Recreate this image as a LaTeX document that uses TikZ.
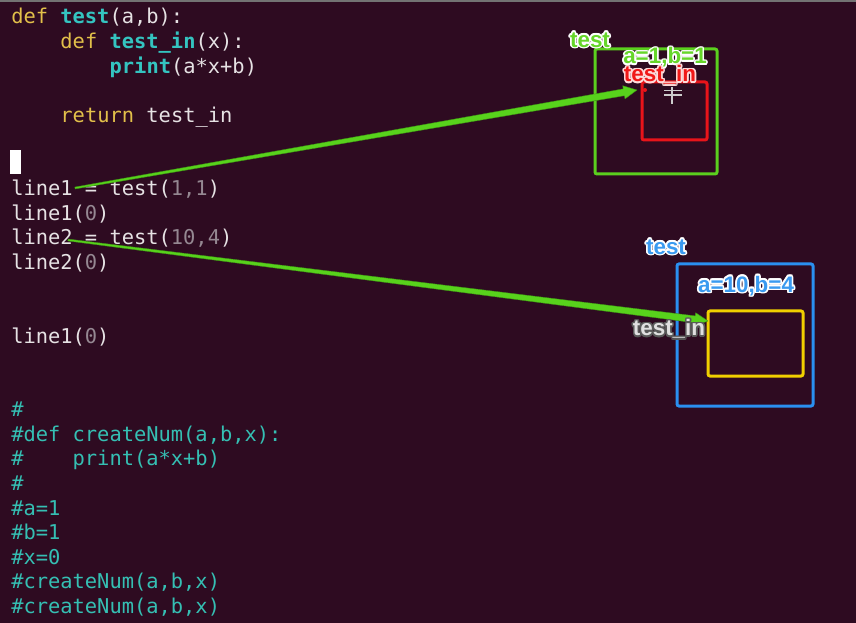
\documentclass[tikz,border=0pt]{standalone}
\usepackage{fontspec}
\setmonofont{DejaVu Sans Mono}
\newfontfamily\labfont{Liberation Sans}
\usetikzlibrary{calc}
\definecolor{bg}{HTML}{2E0B21}
\definecolor{codew}{HTML}{E6E2E4}
\definecolor{kw}{HTML}{E2C04A}
\definecolor{fn}{HTML}{34C4C0}
\definecolor{num}{HTML}{958892}
\definecolor{cmt}{HTML}{35BFB3}
\definecolor{arrg}{HTML}{58D21C}
\definecolor{boxg}{HTML}{5BD01E}
\definecolor{boxr}{HTML}{E8141A}
\definecolor{boxb}{HTML}{2A90F0}
\definecolor{boxy}{HTML}{F0D000}
\definecolor{lblg}{HTML}{66D62A}
\definecolor{lblb}{HTML}{3A9AF0}
\definecolor{lblr}{HTML}{F01818}
\newcommand\halolabel[6]{%
  \foreach \hh in {0,30,...,330}{\node[lbl,text=#5] at ($(#2,#3)+(\hh:1.2pt)$) {#6};}
  \node[lbl,text=#4] (#1) at (#2,#3) {#6};}
\begin{document}
\begin{tikzpicture}[x=0.75pt,y=-0.75pt,
  code/.style={anchor=base west,inner sep=0pt,font=\ttfamily\fontsize{15.3}{18}\selectfont,text=codew},
  cmtline/.style={code,text=cmt},
  lbl/.style={inner sep=0pt,font=\labfont\bfseries\fontsize{16.8}{18}\selectfont},
  framebox/.style={line width=2.25pt,rounded corners=1.5pt},
  taper/.style={fill=arrg,draw=arrg!70!black,line width=0.3pt,line join=round}]
\fill[bg] (0,0) rectangle (856,623);
\useasboundingbox (0,0) rectangle (856,623);
\fill[black!55] (0,0) rectangle (856,2);
% code
\node[code] (c0) at (11,24) {\textcolor{kw}{def} \textcolor{fn}{\bfseries test}(a,b):};
\node[code] (c1) at (60.2,48.55) {\textcolor{kw}{def} \textcolor{fn}{\bfseries test\_in}(x):};
\node[code] (c2) at (109.4,73.1) {\textcolor{fn}{\bfseries print}(a*x+b)};
\node[code] (c4) at (60.2,122.2) {\textcolor{kw}{return} test\_in};
\fill[white] (10,150) rectangle (21,174);
\node[code] (c7) at (11,195.85) {line1 = test(\textcolor{num}{1,1})};
\node[code] (c8) at (11,220.4) {line1(\textcolor{num}{0})};
\node[code] (c9) at (11,244.95) {line2 = test(\textcolor{num}{10,4})};
\node[code] (c10) at (11,269.5) {line2(\textcolor{num}{0})};
\node[code] (c13) at (11,343.15) {line1(\textcolor{num}{0})};
\node[cmtline] (c16) at (11,416.8) {\#};
\node[cmtline] (c17) at (11,441.35) {\#def createNum(a,b,x):};
\node[cmtline] (c18) at (11,465.9) {\#\ \ \ \ print(a*x+b)};
\node[cmtline] (c19) at (11,490.45) {\#};
\node[cmtline] (c20) at (11,515) {\#a=1};
\node[cmtline] (c21) at (11,539.55) {\#b=1};
\node[cmtline] (c22) at (11,564.1) {\#x=0};
\node[cmtline] (c23) at (11,588.65) {\#createNum(a,b,x)};
\node[cmtline] (c24) at (11,613.2) {\#createNum(a,b,x)};
% boxes
\draw[framebox,boxg] (595,49) rectangle (717,174);
\draw[framebox,boxr] (642,82) rectangle (707,140);
\fill[boxr] (645,90) circle (2);
\draw[framebox,boxb] (677,264) rectangle (813,406);
\draw[framebox,boxy] (708,311) rectangle (803,376);
% mouse cursor
\draw[black!20,line width=1pt] (672,87) -- (672,104) (664,90.5) -- (682,90.5) (664,95) -- (682,95);
% arrows
\coordinate (s1) at (75,188);
\coordinate (e1) at (637,90);
\coordinate (b1) at ($(e1)!10pt!(s1)$);
\path[taper] ($(s1)!0.7pt!90:(e1)$) -- ($(b1)!2.6pt!-90:(s1)$) -- ($(b1)!5pt!-90:(s1)$) -- (e1)
  -- ($(b1)!5pt!90:(s1)$) -- ($(b1)!2.6pt!90:(s1)$) -- ($(s1)!0.7pt!-90:(e1)$) -- cycle;
\coordinate (s2) at (68,240);
\coordinate (e2) at (708,321);
\coordinate (b2) at ($(e2)!10pt!(s2)$);
\path[taper] ($(s2)!0.7pt!90:(e2)$) -- ($(b2)!2.6pt!-90:(s2)$) -- ($(b2)!5pt!-90:(s2)$) -- (e2)
  -- ($(b2)!5pt!90:(s2)$) -- ($(b2)!2.6pt!90:(s2)$) -- ($(s2)!0.7pt!-90:(e2)$) -- cycle;
% labels
\halolabel{lt1}{590}{40}{lblg}{white}{test}
\halolabel{lab1}{665}{57.5}{lblg}{white}{a=1,b=1}
\halolabel{lin1}{660}{75}{lblr}{white!85!red}{test\_in}
\halolabel{lt2}{666}{247}{lblb}{white}{test}
\halolabel{lab2}{746}{286}{lblb}{white}{a=10,b=4}
\halolabel{lin2}{669}{329}{black!12}{black!65}{test\_in}
\end{tikzpicture}
\end{document}
